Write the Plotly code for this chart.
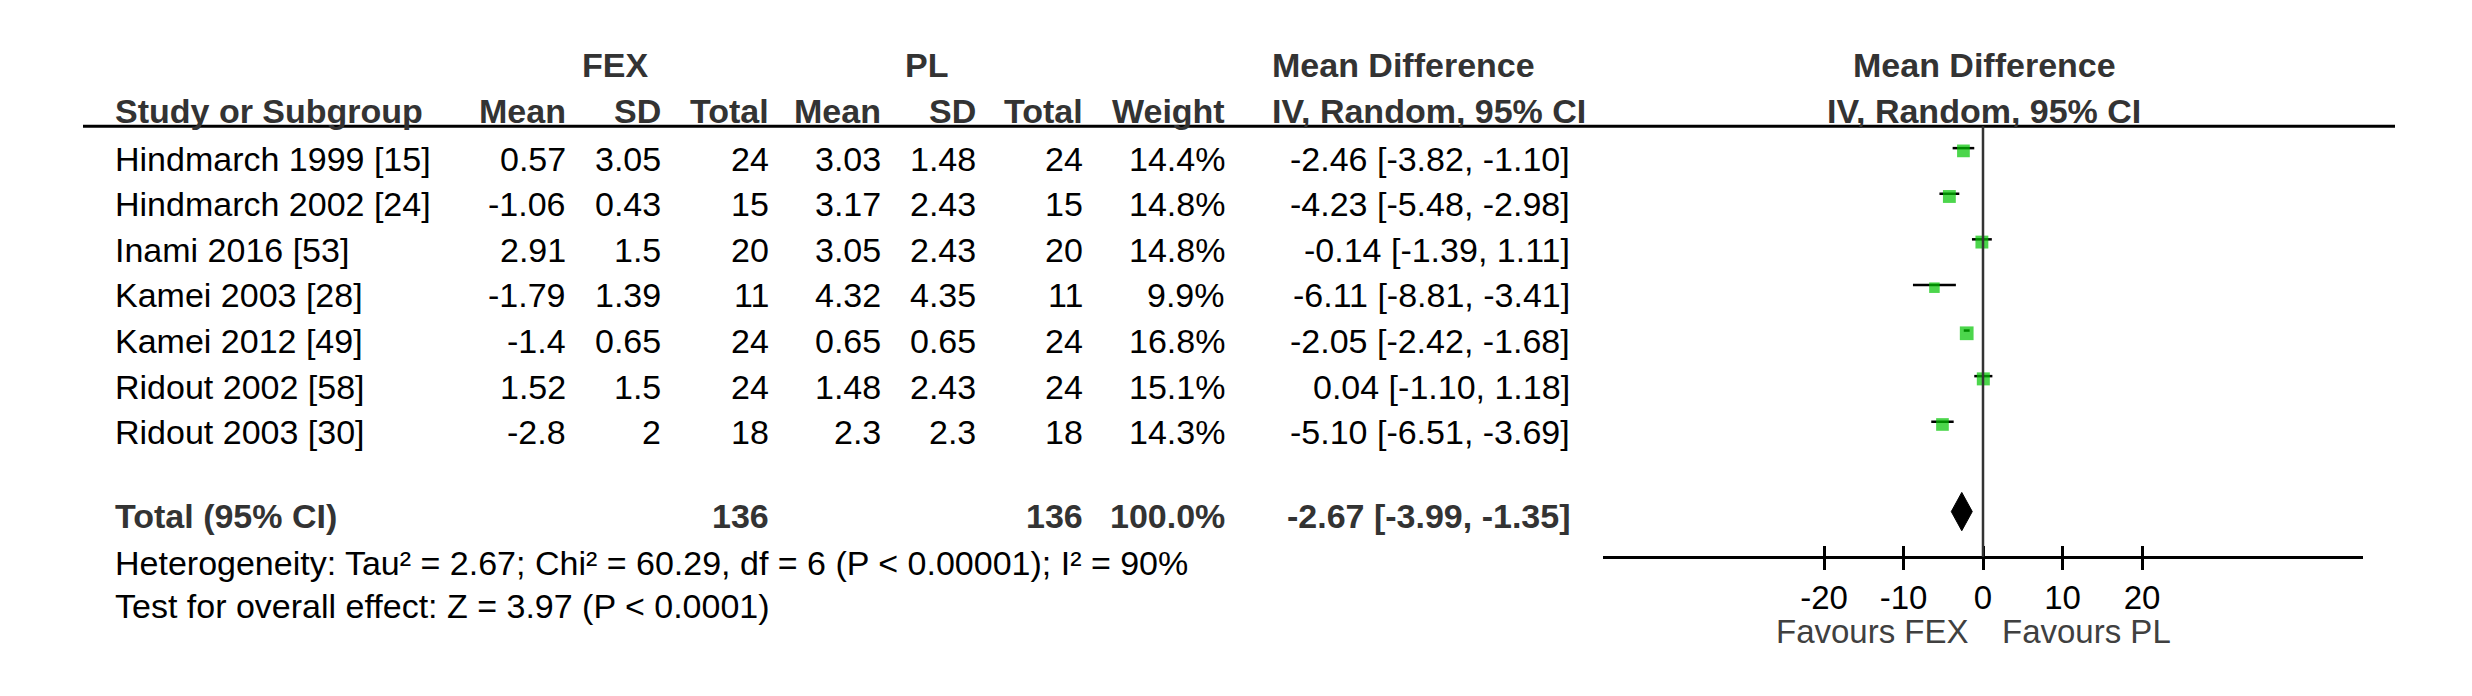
import numpy as np
import plotly.graph_objects as go

# study data (FEX vs PL)
studies = ["Hindmarch 1999 [15]", "Hindmarch 2002 [24]", "Inami 2016 [53]", "Kamei 2003 [28]",
           "Kamei 2012 [49]", "Ridout 2002 [58]", "Ridout 2003 [30]"]
fex_mean = [0.57, -1.06, 2.91, -1.79, -1.4, 1.52, -2.8]
fex_sd = [3.05, 0.43, 1.5, 1.39, 0.65, 1.5, 2]
fex_n = [24, 15, 20, 11, 24, 24, 18]
pl_mean = [3.03, 3.17, 3.05, 4.32, 0.65, 1.48, 2.3]
pl_sd = [1.48, 2.43, 2.43, 4.35, 0.65, 2.43, 2.3]
pl_n = [24, 15, 20, 11, 24, 24, 18]
weights = [14.4, 14.8, 14.8, 9.9, 16.8, 15.1, 14.3]
md = [-2.46, -4.23, -0.14, -6.11, -2.05, 0.04, -5.10]
ci_lo = [-3.82, -5.48, -1.39, -8.81, -2.42, -1.10, -6.51]
ci_hi = [-1.10, -2.98, 1.11, -3.41, -1.68, 1.18, -3.69]

# pooled result
total_fex = 136
total_pl = 136
total_weight = 100.0
pooled_md = -2.67
pooled_lo = -3.99
pooled_hi = -1.35

heterogeneity = "Heterogeneity: Tau² = 2.67; Chi² = 60.29, df = 6 (P &lt; 0.00001); I² = 90%"
overall_test = "Test for overall effect: Z = 3.97 (P &lt; 0.0001)"
tick_vals = [-20, -10, 0, 10, 20]
tick_text = ["-20", "-10", "0", "10", "20"]

# the page body has an 8px margin, so the figure is a bit smaller and shifted
OX, OY = 8, 8
W, H = 2472 - OX, 696 - OY
FONT = "Liberation Sans, Arial, sans-serif"
FS = 34
HEAD = "#333333"

rows = np.arange(1, len(studies) + 1)
total_row = 8.85
ROW_H = 45.6
y_top = 1 - (160 - OY) / ROW_H
y_bot = 1 + (H - (160 - OY)) / ROW_H


def px(x):
    return (x - OX) / W


fig = go.Figure()

# confidence interval lines
for i, r in enumerate(rows):
    fig.add_trace(go.Scatter(x=[ci_lo[i], ci_hi[i]], y=[r - 0.26, r - 0.26], mode="lines",
                             line=dict(color="black", width=2.5), hoverinfo="skip", showlegend=False))

# study squares, area by weight
fig.add_trace(go.Scatter(x=md, y=rows - 0.2, mode="markers",
                         marker=dict(symbol="square", color="#00C400",
                                     size=[3.35 * np.sqrt(w) for w in weights],
                                     line=dict(width=0)),
                         hoverinfo="skip", showlegend=False))

# pooled diamond
dy = 0.42
yc = total_row - 0.14
fig.add_trace(go.Scatter(x=[pooled_lo, pooled_md, pooled_hi, pooled_md, pooled_lo],
                         y=[yc, yc - dy, yc, yc + dy, yc], mode="lines", fill="toself",
                         fillcolor="black", line=dict(color="black", width=1),
                         hoverinfo="skip", showlegend=False))

# invisible trace for the second (inner tick) axis
fig.add_trace(go.Scatter(x=md, y=rows, xaxis="x2", mode="markers", opacity=0,
                         hoverinfo="skip", showlegend=False))

ann = []


def txt(x, y, s, anchor="right", bold=False, color="black", size=FS):
    ann.append(dict(x=px(x), y=y, xref="paper", yref="y", text=s, showarrow=False,
                    xanchor=anchor, yanchor="middle", yshift=1.5,
                    font=dict(family=FONT, size=size, color=HEAD if bold else color,
                              weight="bold" if bold else "normal")))


# headers
txt(615, -1.05, "FEX", "center", True)
txt(926, -1.05, "PL", "center", True)
txt(1270, -1.05, "Mean Difference", "left", True)
txt(1984, -1.05, "Mean Difference", "center", True)
txt(113, -0.04, "Study or Subgroup", "left", True)
for x, s in [(568, "Mean"), (663, "SD"), (771, "Total"), (883, "Mean"), (978, "SD"),
             (1085, "Total"), (1227, "Weight")]:
    txt(x, -0.04, s, "right", True)
txt(1270, -0.04, "IV, Random, 95% CI", "left", True)
txt(1984, -0.04, "IV, Random, 95% CI", "center", True)

# study rows
for i, r in enumerate(rows):
    txt(113, r, studies[i], "left")
    txt(568, r, f"{fex_mean[i]:g}")
    txt(663, r, f"{fex_sd[i]:g}")
    txt(771, r, str(fex_n[i]))
    txt(883, r, f"{pl_mean[i]:g}")
    txt(978, r, f"{pl_sd[i]:g}")
    txt(1085, r, str(pl_n[i]))
    txt(1227, r, f"{weights[i]:.1f}%")
    txt(1572, r, f"{md[i]:.2f} [{ci_lo[i]:.2f}, {ci_hi[i]:.2f}]")

# total row
txt(113, total_row, "Total (95% CI)", "left", True)
txt(771, total_row, str(total_fex), "right", True)
txt(1085, total_row, str(total_pl), "right", True)
txt(1227, total_row, f"{total_weight:.1f}%", "right", True)
txt(1572, total_row, f"{pooled_md:.2f} [{pooled_lo:.2f}, {pooled_hi:.2f}]", "right", True)

txt(113, 9.86, heterogeneity, "left")
txt(113, 10.81, overall_test, "left")

# favours labels
ann.append(dict(x=0, y=11.34, xref="x", yref="y", text="Favours FEX", showarrow=False,
                xanchor="right", xshift=-12, font=dict(family=FONT, size=33, color="#404040")))
ann.append(dict(x=0, y=11.34, xref="x", yref="y", text="Favours PL", showarrow=False,
                xanchor="left", xshift=17, font=dict(family=FONT, size=33, color="#404040")))

shapes = [
    dict(type="line", xref="paper", yref="y", x0=px(83), x1=px(2395), y0=0.259, y1=0.259,
         line=dict(color="black", width=3)),
    dict(type="line", xref="x", yref="y", x0=0, x1=0, y0=0.259, y1=9.70,
         line=dict(color="#333333", width=2.5)),
]

axis_pos = 1 - (556.7 - OY) / H
fig.update_layout(
    width=W, height=H,
    margin=dict(l=0, r=0, t=0, b=0),
    paper_bgcolor="white", plot_bgcolor="white",
    font=dict(family=FONT, size=FS, color="black"),
    xaxis=dict(domain=[px(1603), px(2363)], range=[-47.8, 47.8], anchor="free", position=axis_pos,
               showline=True, linewidth=3, linecolor="black", ticks="outside", ticklen=11,
               tickwidth=3, tickcolor="black", tickvals=tick_vals, ticktext=tick_text,
               showgrid=False, zeroline=False,
               tickfont=dict(family=FONT, size=33, color="black"), ticklabelstandoff=0),
    xaxis2=dict(domain=[px(1603), px(2363)], range=[-47.8, 47.8], overlaying="x", anchor="free",
                position=axis_pos, showline=False, ticks="inside", ticklen=11, tickwidth=3,
                tickcolor="black", tickvals=tick_vals, showticklabels=False, showgrid=False,
                zeroline=False),
    yaxis=dict(domain=[0, 1], range=[y_bot, y_top], visible=False),
    annotations=ann,
    shapes=shapes,
)

fig.write_html("out.html")
